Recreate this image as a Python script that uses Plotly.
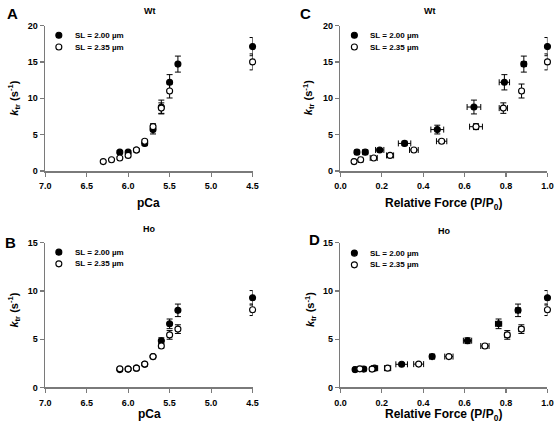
import plotly.graph_objects as go

# ---------------- data ----------------
# Wt, pCa panel (A) and relative force panel (C)
wt_pca_200 = [6.1, 6.0, 5.9, 5.8, 5.7, 5.6, 5.5, 5.4, 4.5]
wt_ktr_200 = [2.6, 2.6, 2.9, 3.8, 5.7, 8.8, 12.2, 14.7, 17.1]
wt_ktr_200_err = [0.2, 0.2, 0.2, 0.3, 0.6, 0.95, 1.05, 1.1, 1.25]
wt_force_200 = [0.08, 0.12, 0.19, 0.31, 0.468, 0.645, 0.792, 0.886, 1.0]
wt_force_200_err = [0.01, 0.012, 0.02, 0.03, 0.031, 0.033, 0.025, 0.012, 0.0]

wt_pca_235 = [6.3, 6.2, 6.1, 6.0, 5.9, 5.8, 5.7, 5.6, 5.5, 4.5]
wt_ktr_235 = [1.3, 1.55, 1.8, 2.15, 2.9, 4.1, 6.1, 8.65, 11.0, 15.0]
wt_ktr_235_err = [0.1, 0.1, 0.15, 0.2, 0.15, 0.25, 0.4, 0.72, 0.96, 1.1]
wt_force_235 = [0.066, 0.098, 0.161, 0.24, 0.355, 0.489, 0.655, 0.787, 0.875, 1.0]
wt_force_235_err = [0.008, 0.01, 0.017, 0.017, 0.021, 0.025, 0.031, 0.02, 0.01, 0.0]

# Ho, pCa panel (B) and relative force panel (D)
ho_pca_200 = [6.1, 6.0, 5.9, 5.8, 5.7, 5.6, 5.5, 5.4, 4.5]
ho_ktr_200 = [1.85, 1.9, 2.0, 2.4, 3.2, 4.85, 6.6, 8.0, 9.3]
ho_ktr_200_err = [0.1, 0.1, 0.15, 0.15, 0.15, 0.3, 0.5, 0.65, 0.75]
ho_force_200 = [0.071, 0.113, 0.165, 0.296, 0.443, 0.614, 0.764, 0.858, 1.0]
ho_force_200_err = [0.008, 0.01, 0.015, 0.028, 0.012, 0.02, 0.015, 0.012, 0.0]

ho_pca_235 = [6.1, 6.0, 5.9, 5.8, 5.7, 5.6, 5.5, 5.4, 4.5]
ho_ktr_235 = [1.93, 1.9, 2.0, 2.42, 3.2, 4.3, 5.45, 6.05, 8.06]
ho_ktr_235_err = [0.08, 0.08, 0.1, 0.12, 0.15, 0.2, 0.45, 0.45, 0.6]
ho_force_235 = [0.094, 0.153, 0.228, 0.378, 0.524, 0.698, 0.806, 0.874, 1.0]
ho_force_235_err = [0.01, 0.01, 0.015, 0.024, 0.02, 0.02, 0.012, 0.012, 0.0]

legend_labels = ["SL = 2.00 \u00b5m", "SL = 2.35 \u00b5m"]
pca_ticks = [7.0, 6.5, 6.0, 5.5, 5.0, 4.5]
force_ticks = [0.0, 0.2, 0.4, 0.6, 0.8, 1.0]

# ---------------- figure ----------------
W, H = 560, 432
FONT = "Liberation Sans, Arial, sans-serif"
AXC = "#7a7a7a"

def px(x):
    return x / W

def py(y):
    return 1 - y / H

fig = go.Figure()

def add_pair(xa, ya, x1, y1, e1, x2, y2, e2, ex1=None, ex2=None):
    # filled (2.00 um) first, open (2.35 um) on top
    for xs, ys, ey, ex, filled in ((x1, y1, e1, ex1, True), (x2, y2, e2, ex2, False)):
        tr = dict(
            x=xs, y=ys, mode="markers", xaxis=xa, yaxis=ya, showlegend=False,
            cliponaxis=False, hoverinfo="skip",
            marker=dict(size=6, symbol="circle",
                        color="black" if filled else "white",
                        line=dict(color="black", width=1.1)),
            error_y=dict(type="data", array=ey, visible=True, color="black",
                         thickness=1, width=3),
        )
        if ex is not None:
            tr["error_x"] = dict(type="data", array=ex, visible=True, color="black",
                                 thickness=1, width=3)
        fig.add_trace(go.Scatter(**tr))

add_pair("x", "y", wt_pca_200, wt_ktr_200, wt_ktr_200_err,
         wt_pca_235, wt_ktr_235, wt_ktr_235_err)
add_pair("x2", "y2", wt_force_200, wt_ktr_200, wt_ktr_200_err,
         wt_force_235, wt_ktr_235, wt_ktr_235_err, wt_force_200_err, wt_force_235_err)
add_pair("x3", "y3", ho_pca_200, ho_ktr_200, ho_ktr_200_err,
         ho_pca_235, ho_ktr_235, ho_ktr_235_err)
add_pair("x4", "y4", ho_force_200, ho_ktr_200, ho_ktr_200_err,
         ho_force_235, ho_ktr_235, ho_ktr_235_err, ho_force_200_err, ho_force_235_err)

dom_left = [px(40), px(252)]
dom_right = [px(341.7), px(553.3)]
dom_top = [py(170), py(21)]
dom_bot = [py(391.5), py(243.5)]

def xaxis(dom, anchor, rng, ticks):
    return dict(domain=dom, anchor=anchor, range=rng, tickvals=ticks,
                ticktext=["%.1f" % t for t in ticks],
                showgrid=False, zeroline=False, showline=True, linecolor=AXC,
                linewidth=1.5, ticks="outside", ticklen=4, tickcolor=AXC,
                tickwidth=1.2, ticklabelstandoff=2, fixedrange=True,
                tickfont=dict(family=FONT, size=9, color="black", weight="bold"))

def yaxis(dom, anchor, top):
    return dict(domain=dom, anchor=anchor, range=[0, top],
                tickvals=list(range(0, top + 1, 5)),
                showgrid=False, zeroline=False, showline=True, linecolor=AXC,
                linewidth=1.5, ticks="outside", ticklen=4, tickcolor=AXC,
                tickwidth=1.2, fixedrange=True,
                tickfont=dict(family=FONT, size=9, color="black", weight="bold"))

fig.update_layout(
    width=W, height=H, margin=dict(l=0, r=0, t=0, b=0),
    paper_bgcolor="white", plot_bgcolor="white", showlegend=False,
    xaxis=xaxis(dom_left, "y", [7.0, 4.5], pca_ticks),
    yaxis=yaxis(dom_top, "x", 20),
    xaxis2=xaxis(dom_right, "y2", [0, 1.0], force_ticks),
    yaxis2=yaxis(dom_top, "x2", 20),
    xaxis3=xaxis(dom_left, "y3", [7.0, 4.5], pca_ticks),
    yaxis3=yaxis(dom_bot, "x3", 15),
    xaxis4=xaxis(dom_right, "y4", [0, 1.0], force_ticks),
    yaxis4=yaxis(dom_bot, "x4", 15),
)

ann = []
def text(x, y, s, size, xanchor="center", yanchor="middle", angle=0):
    ann.append(dict(x=px(x), y=py(y), xref="paper", yref="paper", text=s,
                    showarrow=False, xanchor=xanchor, yanchor=yanchor,
                    textangle=angle, borderpad=0,
                    font=dict(family=FONT, size=size, color="black", weight="bold")))

# panel letters
text(7, 9, "A", 15)
text(306, 9, "C", 15)
text(5, 243, "B", 15)
text(315, 240, "D", 15)
# panel titles
text(147, 0, "Wt", 9, yanchor="top")
text(433, 0, "Wt", 9, yanchor="top")
text(147, 223, "Ho", 9, yanchor="top")
text(448, 225, "Ho", 9, yanchor="top")
# axis titles
ytitle = "<i>k</i><sub>tr</sub> (s<sup>-1</sup>)"
text(8, 95, ytitle, 11, angle=-90)
text(309, 95, ytitle, 11, angle=-90)
text(8, 312, ytitle, 11, angle=-90)
text(311, 312, ytitle, 11, angle=-90)
text(146, 194, "pCa", 12, yanchor="top")
text(147, 410, "pCa", 12, yanchor="top")
text(447, 194, "Relative Force (P/P<sub>0</sub>)", 12, yanchor="top")
text(447, 411, "Relative Force (P/P<sub>0</sub>)", 12, yanchor="top")

# legends
shapes = []
for (lx, ly) in [(54, 31), (356, 31), (54, 253), (356, 254)]:
    for i, lab in enumerate(legend_labels):
        yy = ly + i * 12
        shapes.append(dict(type="circle", xref="paper", yref="paper",
                           xsizemode="pixel", ysizemode="pixel",
                           xanchor=px(lx), yanchor=py(yy),
                           x0=-3, x1=3, y0=-3, y1=3,
                           fillcolor="black" if i == 0 else "white",
                           line=dict(color="black", width=1.1)))
        text(lx + 15, yy, lab, 8, xanchor="left")

fig.update_layout(annotations=ann, shapes=shapes)
fig.write_html("out.html",
               config={"displayModeBar": False, "staticPlot": True},
               post_script="document.body.style.margin='0px';"
                           "document.body.style.overflow='hidden';")
